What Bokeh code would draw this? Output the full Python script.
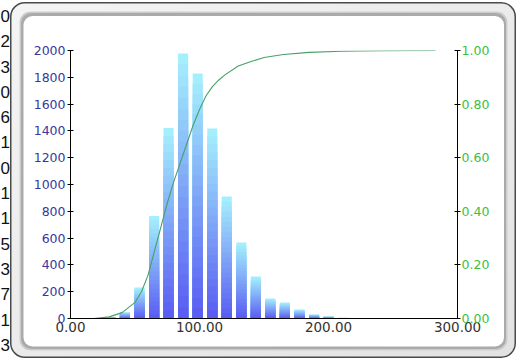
from urllib.parse import quote
from bokeh.plotting import figure
from bokeh.models import (LinearAxis, Range1d, FixedTicker, NumeralTickFormatter,
                          ColumnDataSource, Div)
from bokeh.embed import file_html
from bokeh.resources import INLINE

# ---- data ----
bin_centers = [31.0, 42.2, 53.5, 64.8, 76.0, 87.3, 98.6, 109.9, 121.1, 132.4,
               143.7, 154.9, 166.2, 177.5, 188.8, 200.0, 211.3]
counts = [10, 47, 231, 765, 1422, 1978, 1828, 1418, 910, 567,
          313, 150, 120, 67, 30, 15, 5]
cdf_x = [18, 30, 40, 50, 55, 60, 65, 70, 75, 80, 85, 90, 95, 100, 105, 110, 115, 120,
         130, 140, 150, 165, 185, 210, 240, 283]
cdf_y = [0.0, 0.006, 0.022, 0.06, 0.10, 0.16, 0.25, 0.34, 0.43, 0.51, 0.58, 0.65, 0.72,
         0.78, 0.83, 0.865, 0.89, 0.91, 0.942, 0.959, 0.974, 0.985, 0.993, 0.997, 0.999, 1.0]
y_ticks = [0, 200, 400, 600, 800, 1000, 1200, 1400, 1600, 1800, 2000]
cdf_ticks = [0.0, 0.2, 0.4, 0.6, 0.8, 1.0]
x_ticks = [0, 100, 200, 300]
side_digits = ["0", "2", "3", "0", "6", "1", "0", "1", "1", "5", "3", "7", "1", "3"]

W, H = 520, 360

# decorative rounded, bevelled frame painted as the figure's CSS background
frame_svg = (
    "<svg xmlns='http://www.w3.org/2000/svg' width='520' height='360'>"
    "<defs><linearGradient id='g' x1='0' y1='0' x2='1' y2='1'>"
    "<stop offset='0' stop-color='#f4f4f4'/><stop offset='1' stop-color='#e2e2e2'/>"
    "</linearGradient></defs>"
    "<rect x='10.75' y='2.75' width='504.5' height='354.5' rx='14' fill='url(#g)' "
    "stroke='#4a4a4a' stroke-width='1.5'/>"
    "<rect x='19.5' y='11.5' width='488' height='339' rx='11' fill='#cdcdcd'/>"
    "<rect x='21' y='13' width='485' height='336' rx='10' fill='#aaaaaa'/>"
    "<rect x='23.5' y='16' width='480.5' height='330.5' rx='9' fill='#ffffff'/>"
    "</svg>"
)
bg = "url(\"data:image/svg+xml," + quote(frame_svg) + "\")"

p = figure(width=W, height=H, x_range=Range1d(0, 300), y_range=Range1d(0, 2000),
           output_backend="svg", toolbar_location=None,
           min_border_left=70, min_border_right=63, min_border_top=50, min_border_bottom=42,
           styles={"position": "absolute", "left": "0px", "top": "0px",
                   "background-image": bg, "background-repeat": "no-repeat"})
p.background_fill_color = None
p.border_fill_color = None
p.outline_line_color = None
p.xgrid.visible = False
p.ygrid.visible = False

# ---- gradient bars (stacked slices) ----
N = 24
c_bot = (88, 90, 242)
c_top = (166, 242, 253)
xs, tops, cols = [], [], []
for k in range(N, 0, -1):
    f = (k - 0.5) / N
    col = "#%02x%02x%02x" % tuple(int(round(c_bot[i] + (c_top[i] - c_bot[i]) * f)) for i in range(3))
    for c, v in zip(bin_centers, counts):
        xs.append(c)
        tops.append(v * k / N)
        cols.append(col)
src = ColumnDataSource(dict(x=xs, top=tops, color=cols))
p.vbar(x="x", top="top", bottom=0, width=7.8, fill_color="color", line_color=None, source=src)

# ---- cumulative line on right axis ----
p.extra_y_ranges = {"cdf": Range1d(0, 1)}
p.line(cdf_x, cdf_y, y_range_name="cdf", line_color="#46a168", line_width=1.1)

font = "DejaVu Sans"

ya = p.yaxis[0]
ya.ticker = FixedTicker(ticks=y_ticks)
ya.major_tick_in = 3
ya.major_tick_out = 3
ya.minor_tick_line_color = None
ya.axis_line_color = "black"
ya.major_tick_line_color = "black"
ya.major_label_text_color = "#38389c"
ya.major_label_text_font = font
ya.major_label_text_font_size = "12.5px"
ya.major_label_standoff = 2

ra = LinearAxis(y_range_name="cdf", ticker=FixedTicker(ticks=cdf_ticks),
                formatter=NumeralTickFormatter(format="0.00"))
ra.major_tick_in = 3
ra.major_tick_out = 3
ra.minor_tick_line_color = None
ra.axis_line_color = "black"
ra.major_tick_line_color = "black"
ra.major_label_text_color = "#3cc03c"
ra.major_label_text_font = font
ra.major_label_text_font_size = "12.5px"
ra.major_label_standoff = 1
p.add_layout(ra, "right")

xa = p.xaxis[0]
xa.ticker = FixedTicker(ticks=x_ticks)
xa.formatter = NumeralTickFormatter(format="0.00")
xa.major_tick_in = 0
xa.major_tick_out = 0
xa.minor_tick_line_color = None
xa.axis_line_color = "black"
xa.major_label_text_color = "#333333"
xa.major_label_text_font = font
xa.major_label_text_font_size = "13.5px"
xa.major_label_standoff = 3

# ---- cut-off digits at the left page edge (real HTML text) ----
digits = Div(text="<br>".join(side_digits), width=11, height=356,
             styles={"position": "absolute", "left": "-6px", "top": "-1px",
                     "text-align": "right", "font-family": "Liberation Sans",
                     "font-size": "17px", "line-height": "25.3px", "color": "#111111"})

open("out.html", "w").write(file_html([p, digits], INLINE))
